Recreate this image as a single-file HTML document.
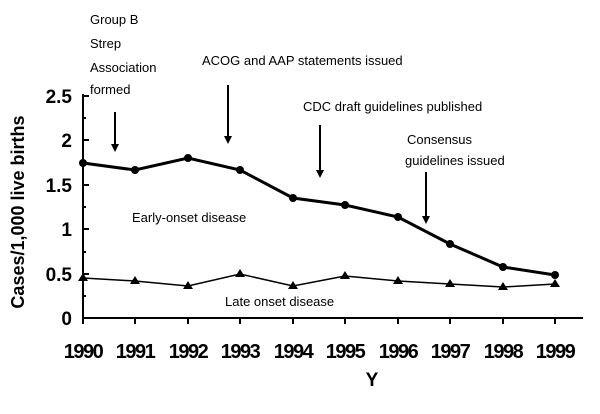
<!DOCTYPE html><html><head><style>body{margin:0;background:#fff}</style></head><body>
<svg width="600" height="409" xmlns="http://www.w3.org/2000/svg" font-family="Liberation Sans, sans-serif">
<rect width="600" height="409" fill="#fff"/>
<g font-size="13" fill="#000">
<text x="90" y="24">Group B</text>
<text x="90" y="48">Strep</text>
<text x="90" y="72">Association</text>
<text x="90" y="94">formed</text>
<text x="202" y="65">ACOG and AAP statements issued</text>
<text x="303" y="111">CDC draft guidelines published</text>
<text x="407" y="144">Consensus</text>
<text x="405" y="165">guidelines issued</text>
<text x="132" y="222">Early-onset disease</text>
<text x="225" y="306">Late onset disease</text>
</g>
<g stroke="#000" stroke-width="2" fill="none">
<line x1="115" y1="112" x2="115" y2="148"/><line x1="228" y1="85" x2="228" y2="140"/>
<line x1="320" y1="125" x2="320" y2="174"/><line x1="426" y1="172" x2="426" y2="220"/>
</g>
<g fill="#000">
<polygon points="111,144 119,144 115,152"/><polygon points="224,136 232,136 228,144"/>
<polygon points="316,170 324,170 320,178"/><polygon points="422,216 430,216 426,224"/>
</g>
<g stroke="#000" stroke-width="2">
<line x1="83" y1="94" x2="83" y2="319"/><line x1="82" y1="318" x2="583" y2="318"/>
<path d="M83 96h6M83 140h6M83 185h6M83 229h6M83 274h6M83 118h3M83 163h3M83 207h3M83 252h3M83 296h3"/>
<path d="M83 318v6M135 318v6M188 318v6M240 318v6M293 318v6M345 318v6M398 318v6M450 318v6M503 318v6M555 318v6"/>
</g>
<polyline fill="none" stroke="#000" stroke-width="3" points="83,163 135,170 188,158 240,170 293,198 345,205 398,217 450,244 503,267 555,275"/>
<g fill="#000"><circle cx="83" cy="163" r="4"/><circle cx="135" cy="170" r="4"/><circle cx="188" cy="158" r="4"/><circle cx="240" cy="170" r="4"/><circle cx="293" cy="198" r="4"/><circle cx="345" cy="205" r="4"/><circle cx="398" cy="217" r="4"/><circle cx="450" cy="244" r="4"/><circle cx="503" cy="267" r="4"/><circle cx="555" cy="275" r="4"/></g>
<polyline fill="none" stroke="#000" stroke-width="1.5" points="83,278 135,281 188,286 240,274 293,286 345,276 398,281 450,284 503,287 555,284"/>
<g fill="#000">
<polygon points="83,273 78,281 88,281"/><polygon points="135,276 130,284 140,284"/><polygon points="188,281 183,289 193,289"/><polygon points="240,269 235,277 245,277"/><polygon points="293,281 288,289 298,289"/><polygon points="345,271 340,279 350,279"/><polygon points="398,276 393,284 403,284"/><polygon points="450,279 445,287 455,287"/><polygon points="503,282 498,290 508,290"/><polygon points="555,279 550,287 560,287"/>
</g>
<g font-size="19" font-weight="bold" text-anchor="end">
<text x="72" y="103">2.5</text><text x="72" y="147">2</text><text x="72" y="192">1.5</text><text x="72" y="236">1</text><text x="72" y="281">0.5</text><text x="72" y="325">0</text>
</g>
<g font-size="20" font-weight="bold" text-anchor="middle" letter-spacing="-1.5">
<text x="83" y="358">1990</text><text x="135" y="358">1991</text><text x="188" y="358">1992</text><text x="240" y="358">1993</text><text x="293" y="358">1994</text><text x="345" y="358">1995</text><text x="398" y="358">1996</text><text x="450" y="358">1997</text><text x="503" y="358">1998</text><text x="555" y="358">1999</text>
</g>
<text x="372" y="386" font-size="19" font-weight="bold" text-anchor="middle">Y</text>
<text transform="translate(24,212) rotate(-90)" font-size="18" font-weight="bold" text-anchor="middle">Cases/1,000 live births</text>
</svg>
</body></html>
